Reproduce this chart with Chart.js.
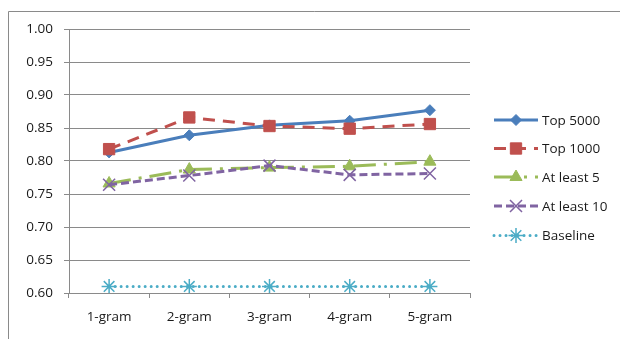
<!DOCTYPE html>
<html>
<head>
<meta charset="utf-8">
<script src="https://cdn.jsdelivr.net/npm/chart.js@4/dist/chart.umd.min.js"></script>
<style>
  html, body { margin: 0; padding: 0; background: #fff; }
  #wrap { position: relative; width: 620px; height: 339px; }
</style>
</head>
<body>
<div id="wrap"><canvas id="c" width="620" height="339"></canvas></div>
<script>
const categories = ['1-gram', '2-gram', '3-gram', '4-gram', '5-gram'];
const seriesNames = ['Top 5000', 'Top 1000', 'At least 5', 'At least 10', 'Baseline'];
const top5000 = [0.813, 0.839, 0.854, 0.861, 0.877];
const top1000 = [0.818, 0.866, 0.853, 0.849, 0.856];
const atLeast5 = [0.766, 0.787, 0.790, 0.792, 0.799];
const atLeast10 = [0.764, 0.778, 0.793, 0.779, 0.781];
const baseline = [0.61, 0.61, 0.61, 0.61, 0.61];
const yTicks = [0.60, 0.65, 0.70, 0.75, 0.80, 0.85, 0.90, 0.95, 1.00];

const FONT = '"Open Sans", "Noto Sans", sans-serif';
const FSIZE = 13.5;

const styles = [
  { color: '#4A7EBB', dash: [], cap: 'butt', point: 'rectRot', r: 5.5, fill: true, bw: 1, order: 5 },
  { color: '#C0504D', dash: [12, 8], cap: 'butt', point: 'rect', r: 8, fill: true, bw: 1, order: 4 },
  { color: '#9BBB59', dash: [22, 8, 3, 8], cap: 'butt', point: 'triangle', r: 7, fill: true, bw: 1, order: 3 },
  { color: '#8064A2', dash: [8, 4], cap: 'butt', point: 'crossRot', r: 8.5, fill: false, bw: 1.5, order: 2 },
  { color: '#4BACC6', dash: [0.01, 6], cap: 'round', point: 'star', r: 7.5, fill: false, bw: 1.5, order: 1 }
];
const values = [top5000, top1000, atLeast5, atLeast10, baseline];

const datasets = values.map((v, i) => {
  const s = styles[i];
  return {
    label: seriesNames[i],
    data: v,
    borderColor: s.color,
    backgroundColor: s.color,
    borderWidth: 3,
    borderDash: s.dash,
    borderCapStyle: s.cap,
    tension: 0,
    fill: false,
    order: s.order,
    pointStyle: s.point,
    pointRadius: s.r,
    pointHoverRadius: s.r,
    pointBorderWidth: s.bw,
    pointBorderColor: s.color,
    pointBackgroundColor: s.fill ? s.color : 'rgba(0,0,0,0)'
  };
});

const framePlugin = {
  id: 'frame',
  beforeDraw(chart) {
    const ctx = chart.ctx;
    ctx.save();
    ctx.strokeStyle = '#8a8a8a';
    ctx.lineWidth = 1;
    ctx.beginPath();
    ctx.moveTo(8.5, 339);
    ctx.lineTo(8.5, 11.5);
    ctx.lineTo(620, 11.5);
    ctx.stroke();
    ctx.restore();
  }
};

const legendPlugin = {
  id: 'customLegend',
  afterDraw(chart) {
    const ctx = chart.ctx;
    const ys = [120, 148.5, 177, 206, 235.5];
    const x0 = 494, x1 = 538, xm = 516, tx = 542;
    chart.data.datasets.forEach((ds, i) => {
      const y = ys[i];
      ctx.save();
      ctx.strokeStyle = ds.borderColor;
      ctx.lineWidth = 3;
      ctx.setLineDash(ds.borderDash);
      ctx.lineCap = ds.borderCapStyle;
      ctx.beginPath();
      ctx.moveTo(x0, y);
      ctx.lineTo(x1, y);
      ctx.stroke();
      ctx.setLineDash([]);
      ctx.lineCap = 'butt';
      ctx.fillStyle = ds.pointBackgroundColor;
      ctx.strokeStyle = ds.pointBorderColor;
      ctx.lineWidth = ds.pointBorderWidth;
      if (Chart.helpers && Chart.helpers.drawPoint) {
        Chart.helpers.drawPoint(ctx, {
          pointStyle: ds.pointStyle,
          radius: ds.pointRadius,
          rotation: 0,
          borderWidth: ds.pointBorderWidth
        }, xm, y);
      }
      ctx.fillStyle = '#1a1a1a';
      ctx.font = FSIZE + 'px ' + FONT;
      ctx.textBaseline = 'middle';
      ctx.textAlign = 'left';
      ctx.fillText(ds.label, tx, y + 1);
      ctx.restore();
    });
  }
};

new Chart(document.getElementById('c'), {
  type: 'line',
  data: { labels: categories, datasets },
  options: {
    responsive: false,
    animation: false,
    devicePixelRatio: 1,
    layout: { padding: { left: 0, right: 150, top: 29, bottom: 0 } },
    plugins: { legend: { display: false }, tooltip: { enabled: false } },
    scales: {
      x: {
        offset: true,
        grid: {
          offset: true,
          drawOnChartArea: false,
          drawTicks: true,
          tickLength: 5,
          color: '#8a8a8a',
          lineWidth: 1
        },
        border: { color: '#8a8a8a', width: 1 },
        ticks: { color: '#1a1a1a', font: { family: FONT, size: FSIZE }, padding: 11, maxRotation: 0 },
        afterFit(scale) { scale.height = 46; }
      },
      y: {
        min: 0.6,
        max: 1.0,
        afterBuildTicks(scale) { scale.ticks = yTicks.map(v => ({ value: v })); },
        grid: { color: '#8a8a8a', lineWidth: 1, drawTicks: true, tickLength: 5 },
        border: { color: '#8a8a8a', width: 1 },
        ticks: {
          color: '#1a1a1a',
          font: { family: FONT, size: FSIZE },
          padding: 11,
          callback: (v) => Number(v).toFixed(2)
        },
        afterFit(scale) { scale.width = 69; }
      }
    }
  },
  plugins: [framePlugin, legendPlugin]
});
</script>
</body>
</html>
